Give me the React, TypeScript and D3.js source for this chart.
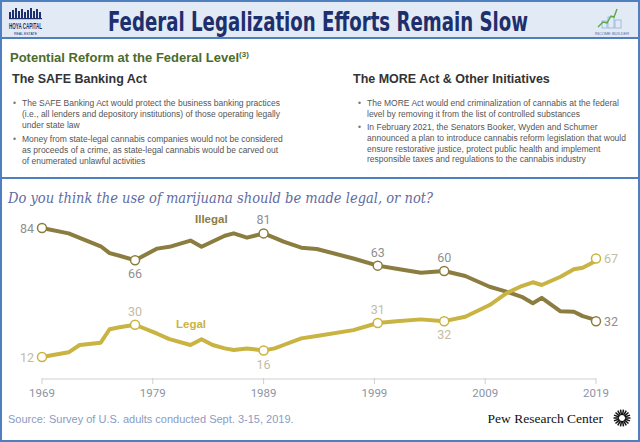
import React from "react";
import * as d3 from "d3";

const years = [1969, 1971.4, 1972.4, 1974.3, 1975.1, 1976, 1977.4, 1979.4, 1980.5, 1982.4, 1983.4, 1984.4, 1985.5, 1986.3, 1987.5, 1989, 1990, 1990.8, 1992.4, 1993.8, 1997.1, 1999.3, 2001, 2003.2, 2005.3, 2007.2, 2009.4, 2010.9, 2012.3, 2013.3, 2014.1, 2015.8, 2017, 2017.8, 2018.8, 2019];
const illegal = [84, 81, 78.5, 73.8, 70, 68.5, 66, 72.5, 73.5, 77, 73.5, 76.5, 79.7, 81, 78.6, 81, 78.5, 76.4, 73, 72.3, 67, 63, 61.3, 59, 60, 57.2, 51.2, 48.5, 45.6, 42, 45, 37.5, 37.3, 34.8, 33, 32];
const legal = [12, 14.6, 18.7, 20, 27.5, 28.6, 30, 25, 22, 18.7, 21.9, 18.7, 16.8, 15.9, 16.8, 15.6, 16.8, 18.7, 22.4, 23.7, 27, 31, 32, 33, 32, 34.5, 41, 47.5, 51.6, 53.7, 52.2, 56.8, 61, 61.8, 65, 67];
const tickYears = [1969, 1979, 1989, 1999, 2009, 2019];
const labeledYears = [1969, 1977.4, 1989, 1999.3, 2005.3, 2019];
const illegalLabelPos = ["left", "below", "above", "above", "above", "right"];
const legalLabelPos = ["left", "above", "below", "above", "below", "right"];

const leftBullets = [
  ["The SAFE Banking Act would protect the business banking practices", "(i.e., all lenders and depository institutions) of those operating legally", "under state law"],
  ["Money from state-legal cannabis companies would not be considered", "as proceeds of a crime, as state-legal cannabis would be carved out", "of enumerated unlawful activities"],
];
const rightBullets = [
  ["The MORE Act would end criminalization of cannabis at the federal", "level by removing it from the list of controlled substances"],
  ["In February 2021, the Senators Booker, Wyden and Schumer", "announced a plan to introduce cannabis reform legislation that would", "ensure restorative justice, protect public health and implement", "responsible taxes and regulations to the cannabis industry"],
];

const W = 640, H = 442;
const ILLEGAL_C = "#8b7d3f";
const LEGAL_C = "#c9b342";
const BLUE = "#4f7fbf";
const SANS = "'Liberation Sans', Arial, sans-serif";

function Bullets({ groups, xb, xt, starts }: { groups: string[][]; xb: number; xt: number; starts: number[] }) {
  return (
    <g fontFamily={SANS} fontSize={8.5} fill="#555">
      {groups.map((g, gi) => (
        <g key={gi}>
          <text x={xb} y={starts[gi]} fill="#777">•</text>
          {g.map((line, li) => (
            <text key={li} x={xt} y={starts[gi] + li * 10.8}>{line}</text>
          ))}
        </g>
      ))}
    </g>
  );
}

export default function App() {
  const x = d3.scaleLinear().domain([1969, 2019]).range([42, 596]);
  const y = d3.scaleLinear().domain([0, 84]).range([378.5, 228]);
  const line = d3.line<number>().x((_, i) => x(years[i])).y((v) => y(v));

  const labelFor = (v: number, yr: number, pos: string, color: string, key: string) => {
    const cx = x(yr), cy = y(v);
    let tx = cx, ty = cy, anchor: "start" | "middle" | "end" = "middle";
    if (pos === "left") { tx = cx - 8; ty = cy + 4.5; anchor = "end"; }
    if (pos === "right") { tx = cx + 8; ty = cy + 4.5; anchor = "start"; }
    if (pos === "above") { ty = cy - 9; }
    if (pos === "below") { ty = cy + 18; }
    return (
      <text key={key} x={tx} y={ty} textAnchor={anchor} fill={color} fontSize={12.5} fontFamily="Roboto, 'Liberation Sans', sans-serif">
        {Math.round(v)}
      </text>
    );
  };

  const idx = labeledYears.map((ly) => years.indexOf(ly));
  const rays = d3.range(18).map((i) => (i * Math.PI) / 9);

  return (
    <svg width={W} height={H} style={{ position: "absolute", left: 0, top: 0, background: "#fff" }}>
      <rect x={1} y={1} width={W - 2} height={37} fill="#e2eaf5" stroke={BLUE} strokeWidth={2} />
      <rect x={1} y={1} width={W - 2} height={H - 2} fill="none" stroke={BLUE} strokeWidth={2} />
      <text x={318} y={31} textAnchor="middle" fontFamily="'Liberation Sans Narrow', 'DejaVu Sans Condensed', Arial, sans-serif" fontWeight="bold" fontSize={26} fill="#1d2f6d" textLength={420} lengthAdjust="spacingAndGlyphs">
        Federal Legalization Efforts Remain Slow
      </text>
      {/* left logo */}
      <g fill="#1d2f6d">
        {[0, 3, 6, 9, 12, 15, 18, 21, 24, 27, 30].map((dx, i) => (
          <rect key={i} x={9 + dx} y={14 - ((i * 7) % 5) - 2} width={2} height={6 + ((i * 7) % 5)} />
        ))}
        <rect x={9} y={18} width={33} height={1.2} />
        <text x={9} y={29} fontFamily="'Liberation Sans Narrow', Arial" fontWeight="bold" fontSize={9} textLength={33} lengthAdjust="spacingAndGlyphs">HOYA CAPITAL</text>
        <text x={25.5} y={34.5} textAnchor="middle" fontFamily={SANS} fontSize={3.5}>REAL ESTATE</text>
      </g>
      {/* right logo */}
      <g>
        <rect x={608} y={17} width={6} height={11} fill="none" stroke="#8fb3d6" strokeWidth={0.8} />
        <rect x={615} y={20} width={6} height={8} fill="none" stroke="#8fb3d6" strokeWidth={0.8} />
        <rect x={602} y={21} width={5} height={7} fill="none" stroke="#8fb3d6" strokeWidth={0.8} />
        <path d="M598,27 L603,22 L607,23 L611,16 L614,17 L617,9" fill="none" stroke="#5aa84a" strokeWidth={1.4} />
        <text x={612} y={35} textAnchor="middle" fontFamily={SANS} fontSize={4} fill="#4a6fa5">INCOME BUILDER</text>
      </g>

      <text x={10} y={62} fontFamily={SANS} fontWeight="bold" fontSize={13} fill="#4b6b2b">
        Potential Reform at the Federal Level
        <tspan fontSize={8} dy={-5}>(3)</tspan>
      </text>
      <text x={12} y={83} fontFamily={SANS} fontWeight="bold" fontSize={12.5} fill="#333">The SAFE Banking Act</text>
      <text x={353} y={83} fontFamily={SANS} fontWeight="bold" fontSize={12.5} fill="#333">The MORE Act &amp; Other Initiatives</text>
      <Bullets groups={leftBullets} xb={13} xt={22} starts={[106, 142]} />
      <Bullets groups={rightBullets} xb={358} xt={367} starts={[106, 130]} />

      <line x1={1} x2={W - 1} y1={178} y2={178} stroke={BLUE} strokeWidth={2} />

      <text x={8} y={203} fontFamily="'DejaVu Serif', 'Liberation Serif', serif" fontStyle="italic" fontSize={15} fill="#5f6b9f" textLength={425} lengthAdjust="spacingAndGlyphs">
        Do you think the use of marijuana should be made legal, or not?
      </text>

      <line x1={x(1969)} x2={x(2019)} y1={379} y2={379} stroke="#cfcfcf" strokeWidth={1} />
      {tickYears.map((t) => (
        <g key={t}>
          <line x1={x(t)} x2={x(t)} y1={378} y2={384} stroke="#cfcfcf" />
          <text x={x(t)} y={397} textAnchor="middle" fontFamily="Roboto, 'Liberation Sans', sans-serif" fontSize={11.5} fill="#8e93a3">{t}</text>
        </g>
      ))}

      <path d={line(illegal) || ""} fill="none" stroke={ILLEGAL_C} strokeWidth={4} strokeLinejoin="round" />
      <path d={line(legal) || ""} fill="none" stroke={LEGAL_C} strokeWidth={4} strokeLinejoin="round" />
      {idx.map((i, k) => (
        <g key={"c" + k}>
          <circle cx={x(years[i])} cy={y(illegal[i])} r={4.5} fill="#fff" stroke={ILLEGAL_C} strokeWidth={1.5} />
          <circle cx={x(years[i])} cy={y(legal[i])} r={4.5} fill="#fff" stroke={LEGAL_C} strokeWidth={1.5} />
        </g>
      ))}
      {idx.map((i, k) => labelFor(illegal[i], years[i], illegalLabelPos[k], "#8f8f8f", "il" + k))}
      {idx.map((i, k) => labelFor(legal[i], years[i], legalLabelPos[k], "#c2bca6", "lg" + k))}
      <text x={195} y={223} fontFamily={SANS} fontWeight="bold" fontSize={11.5} fill={ILLEGAL_C}>Illegal</text>
      <text x={176} y={328} fontFamily={SANS} fontWeight="bold" fontSize={11.5} fill={LEGAL_C}>Legal</text>

      <text x={8} y={423} fontFamily={SANS} fontSize={11} fill="#8a9bc4">Source: Survey of U.S. adults conducted Sept. 3-15, 2019.</text>
      <text x={603} y={423} textAnchor="end" fontFamily="'Liberation Serif', 'DejaVu Serif', serif" fontSize={13.5} fill="#111">Pew Research Center</text>
      <g stroke="#111" strokeWidth={1.5}>
        {rays.map((a, i) => (
          <line key={i} x1={622 + Math.cos(a) * 3} y1={418 + Math.sin(a) * 3} x2={622 + Math.cos(a) * 8.5} y2={418 + Math.sin(a) * 8.5} />
        ))}
      </g>
    </svg>
  );
}
